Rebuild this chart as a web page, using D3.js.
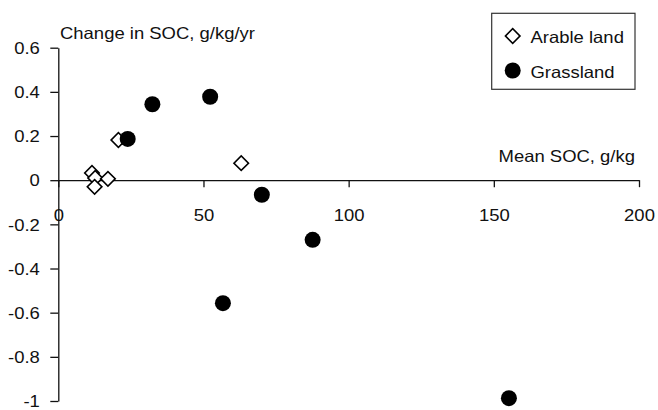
<!DOCTYPE html>
<html>
<head>
<meta charset="utf-8">
<script src="https://cdn.jsdelivr.net/npm/d3@7"></script>
<style>
	body { margin: 0; background: #fff; }
	svg { display: block; }
	text { font-family: 'Liberation Sans', Arial, sans-serif; font-size: 16.5px; fill: #111; }
	.axis path, .axis line { stroke: #111; stroke-width: 1.3; }
</style>
</head>
<body>
<div id="chart"></div>
<script>
// values: mean SOC (g/kg) vs change in SOC (g/kg/yr)
const arableX = [11.6, 12.7, 12.5, 17.1, 20.7, 63.0];
const arableY = [0.033, 0.01, -0.03, 0.006, 0.182, 0.077];
const grassX = [23.9, 32.4, 52.3, 56.7, 70.1, 87.6, 155.2];
const grassY = [0.187, 0.344, 0.378, -0.557, -0.066, -0.27, -0.987];
const xTicks = [0, 50, 100, 150, 200];
const yTicks = [-1, -0.8, -0.6, -0.4, -0.2, 0, 0.2, 0.4, 0.6];
const seriesNames = ['Arable land', 'Grassland'];

const W = 658, H = 410;
const stretch = 1.12; // source type is set a little wide

const svg = d3.select('#chart').append('svg').attr('width', W).attr('height', H);

const x = d3.scaleLinear().domain([0, 200]).range([58.3, 639]);
const y = d3.scaleLinear().domain([-1, 0.6]).range([401, 47.7]);

const diamond = d3.symbol().type(d3.symbolSquare).size(106);

// y axis
const yAxis = svg.append('g')
	.attr('class', 'axis')
	.attr('transform', 'translate(' + x(0) + ',0)')
	.call(d3.axisLeft(y).tickValues(yTicks).tickSize(8).tickSizeOuter(0)
		.tickFormat(d => String(+d.toFixed(1))));
yAxis.selectAll('text')
	.attr('x', 0)
	.attr('dy', '0.35em')
	.attr('transform', 'translate(-18.5,0) scale(' + stretch + ',1)')
	.style('font-size', '16.5px')
	.style('font-family', null);

// x axis through zero
const xAxis = svg.append('g')
	.attr('class', 'axis')
	.attr('transform', 'translate(0,' + y(0) + ')')
	.call(d3.axisBottom(x).tickValues(xTicks).tickSize(7).tickSizeOuter(0));
xAxis.selectAll('text')
	.attr('y', 40.5)
	.attr('dy', 0)
	.attr('transform', 'scale(' + stretch + ',1)')
	.style('font-size', '16.5px')
	.style('font-family', null);

svg.selectAll('.axis text').attr('fill', '#111');

// axis titles
svg.append('text')
	.attr('transform', 'translate(60,39) scale(' + stretch + ',1)')
	.text('Change in SOC, g/kg/yr');
svg.append('text')
	.attr('text-anchor', 'end')
	.attr('transform', 'translate(635,162.3) scale(' + stretch + ',1)')
	.text('Mean SOC, g/kg');

// arable land diamonds
const arable = arableX.map((v, i) => ({ x: v, y: arableY[i] }));
svg.append('g')
	.selectAll('path')
	.data(arable)
	.enter()
	.append('path')
	.attr('d', diamond)
	.attr('transform', d => 'translate(' + x(d.x) + ',' + y(d.y) + ') rotate(45)')
	.style('fill', '#fff')
	.style('stroke', '#000')
	.style('stroke-width', 1.6);

// grassland dots
const grass = grassX.map((v, i) => ({ x: v, y: grassY[i] }));
svg.append('g')
	.selectAll('circle')
	.data(grass)
	.enter()
	.append('circle')
	.attr('cx', d => x(d.x))
	.attr('cy', d => y(d.y))
	.attr('r', 8)
	.style('fill', '#000');

// legend
const legend = svg.append('g');
legend.append('rect')
	.attr('x', 491.7)
	.attr('y', 13.3)
	.attr('width', 143.3)
	.attr('height', 76)
	.style('fill', '#fff')
	.style('stroke', '#333')
	.style('stroke-width', 1.2);
legend.append('path')
	.attr('d', diamond)
	.attr('transform', 'translate(512.7,36) rotate(45)')
	.style('fill', '#fff')
	.style('stroke', '#000')
	.style('stroke-width', 1.6);
legend.append('circle')
	.attr('cx', 512.7)
	.attr('cy', 70.5)
	.attr('r', 8)
	.style('fill', '#000');
legend.selectAll('text')
	.data(seriesNames)
	.enter()
	.append('text')
	.attr('transform', (d, i) => 'translate(530.5,' + (i ? 77.5 : 42.8) + ') scale(' + stretch + ',1)')
	.text(d => d);
</script>
</body>
</html>
